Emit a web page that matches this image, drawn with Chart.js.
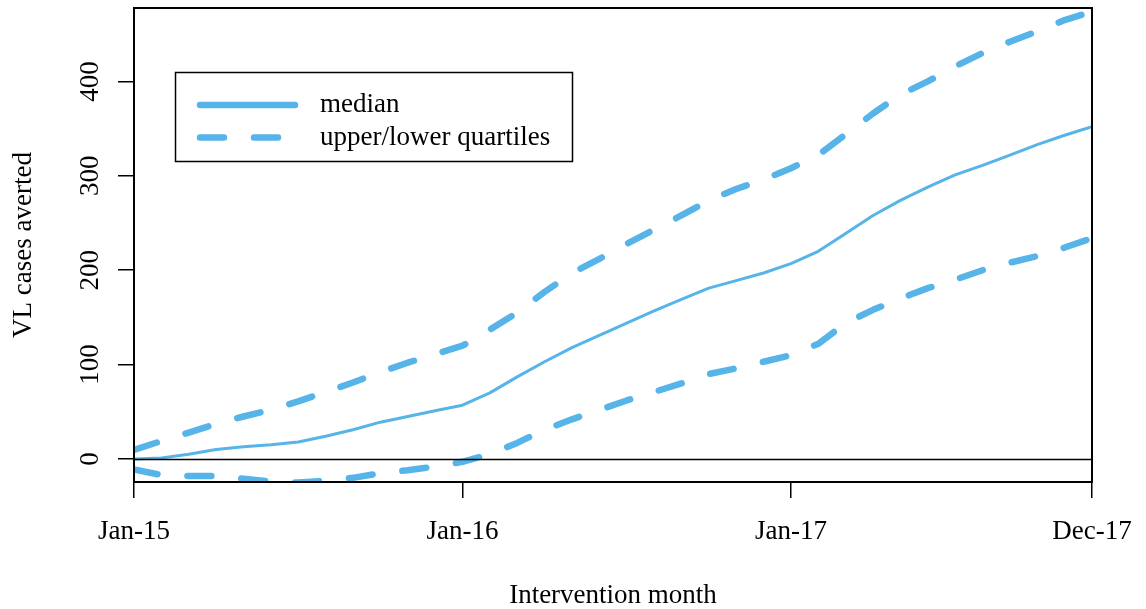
<!DOCTYPE html>
<html>
<head>
<meta charset="utf-8">
<script src="https://cdn.jsdelivr.net/npm/chart.js@4.4.1/dist/chart.umd.min.js"></script>
<style>
  html, body { margin: 0; padding: 0; background: #fff; }
  #wrap { width: 1146px; height: 609px; position: relative; }
</style>
</head>
<body>
<div id="wrap"><canvas id="c" width="1146" height="609"></canvas></div>
<script>
// Intervention months, Jan-15 .. Dec-17
const monthLabels = [
  'Jan-15','Feb-15','Mar-15','Apr-15','May-15','Jun-15','Jul-15','Aug-15','Sep-15','Oct-15','Nov-15','Dec-15',
  'Jan-16','Feb-16','Mar-16','Apr-16','May-16','Jun-16','Jul-16','Aug-16','Sep-16','Oct-16','Nov-16','Dec-16',
  'Jan-17','Feb-17','Mar-17','Apr-17','May-17','Jun-17','Jul-17','Aug-17','Sep-17','Oct-17','Nov-17','Dec-17'
];
// Month indices that get a labelled tick on the x axis
const xTickMonths = [0, 12, 24, 35];
// Tick values on the y axis
const yTickValues = [0, 100, 200, 300, 400];

// Cumulative VL cases averted
const medianCases = [0, 1, 5, 10, 13, 15, 18, 24, 31, 39, 45, 51,
  57, 70, 87, 103, 118, 131, 144, 157, 169, 181, 189, 197,
  207, 220, 239, 258, 274, 288, 301, 311, 322, 333, 343, 352];
const upperQuartile = [9.5, 19, 28, 37, 45, 52, 61, 71, 81, 92, 102, 111,
  120, 137, 155, 177, 197, 212, 228, 243, 258, 274, 286, 296,
  308, 322, 344, 366, 386, 400, 416, 430, 442, 453, 465, 474];
const lowerQuartile = [-11, -17, -18, -18, -21, -24, -25, -23, -20, -15, -12, -8,
  -3, 5, 17, 31, 42, 52, 62, 71, 80, 90, 96, 103,
  110, 122, 144, 158, 170, 181, 190, 200, 208, 215, 224, 234];

const BLUE = '#56B4E9';
const FONT = '"Liberation Serif", "Times New Roman", Times, serif';
const FONT_SIZE = 27;
const DASH = [24, 30];

// Box around the plot, horizontal zero line, rotated y tick labels and the legend
const decorations = {
  id: 'decorations',
  afterDatasetsDraw(chart) {
    const { ctx, chartArea: a, scales: { y } } = chart;
    ctx.save();
    // zero line
    const y0 = Math.round(y.getPixelForValue(0)) + 0.5;
    ctx.strokeStyle = '#000';
    ctx.lineWidth = 1.6;
    ctx.beginPath();
    ctx.moveTo(a.left, y0);
    ctx.lineTo(a.right, y0);
    ctx.stroke();
    // plot frame
    ctx.lineWidth = 2;
    ctx.strokeRect(a.left, a.top, a.right - a.left, a.bottom - a.top);
    ctx.restore();
  },
  afterDraw(chart) {
    const { ctx, scales: { y } } = chart;
    ctx.save();
    // y tick labels, written upwards
    ctx.fillStyle = '#000';
    ctx.font = FONT_SIZE + 'px ' + FONT;
    ctx.textAlign = 'center';
    ctx.textBaseline = 'middle';
    y.ticks.forEach(t => {
      ctx.save();
      ctx.translate(91, y.getPixelForValue(t.value));
      ctx.rotate(-Math.PI / 2);
      ctx.fillText(String(t.value), 0, 0);
      ctx.restore();
    });

    // legend
    const ds = chart.data.datasets;
    ctx.lineWidth = 1.5;
    ctx.strokeStyle = '#000';
    ctx.strokeRect(175.5, 72.5, 397, 89);
    ctx.lineCap = 'round';
    ctx.strokeStyle = BLUE;
    ctx.lineWidth = 6.5;
    ctx.beginPath();
    ctx.moveTo(200, 105);
    ctx.lineTo(295, 105);
    ctx.stroke();
    ctx.setLineDash(DASH);
    ctx.beginPath();
    ctx.moveTo(200, 137.5);
    ctx.lineTo(295, 137.5);
    ctx.stroke();
    ctx.setLineDash([]);
    ctx.fillStyle = '#000';
    ctx.textAlign = 'left';
    ctx.fillText(ds[0].label, 320, 105);
    ctx.fillText(ds[1].label, 320, 138);
    ctx.restore();
  }
};

new Chart(document.getElementById('c'), {
  type: 'line',
  data: {
    labels: monthLabels,
    datasets: [
      { label: 'median', data: medianCases, borderColor: BLUE, borderWidth: 3 },
      { label: 'upper/lower quartiles', data: upperQuartile, borderColor: BLUE, borderWidth: 6.5, borderDash: DASH },
      { label: 'lower quartile', data: lowerQuartile, borderColor: BLUE, borderWidth: 6.5, borderDash: DASH }
    ]
  },
  options: {
    responsive: false,
    animation: false,
    devicePixelRatio: 1,
    layout: { padding: { top: 8, right: 54, left: 0, bottom: 0 } },
    datasets: {
      line: { clip: 0, fill: false, tension: 0, pointRadius: 0, borderCapStyle: 'round', borderJoinStyle: 'round' }
    },
    plugins: { legend: { display: false }, tooltip: { enabled: false } },
    scales: {
      x: {
        type: 'category',
        offset: false,
        border: { display: false },
        grid: { display: true, drawOnChartArea: false, drawTicks: true, tickLength: 16, color: '#000', lineWidth: 1.5 },
        ticks: { autoSkip: false, maxRotation: 0, minRotation: 0, padding: 18, color: '#000', font: { family: FONT, size: FONT_SIZE } },
        title: { display: true, text: 'Intervention month', color: '#000', font: { family: FONT, size: FONT_SIZE, lineHeight: 1 }, padding: { top: 0, bottom: 0 } },
        afterBuildTicks: s => { s.ticks = xTickMonths.map(v => ({ value: v })); },
        afterFit: s => { s.height = 127; s.paddingLeft = 0; s.paddingRight = 0; }
      },
      y: {
        min: -24.4,
        max: 477.8,
        border: { display: false },
        grid: { display: true, drawOnChartArea: false, drawTicks: true, tickLength: 16, color: '#000', lineWidth: 1.5 },
        ticks: { display: false },
        title: { display: true, text: 'VL cases averted', color: '#000', font: { family: FONT, size: FONT_SIZE, lineHeight: 1 }, padding: { top: 10.5, bottom: 0 } },
        afterBuildTicks: s => { s.ticks = yTickValues.map(v => ({ value: v })); },
        afterFit: s => { s.width = 134; }
      }
    }
  },
  plugins: [decorations]
});
</script>
</body>
</html>
